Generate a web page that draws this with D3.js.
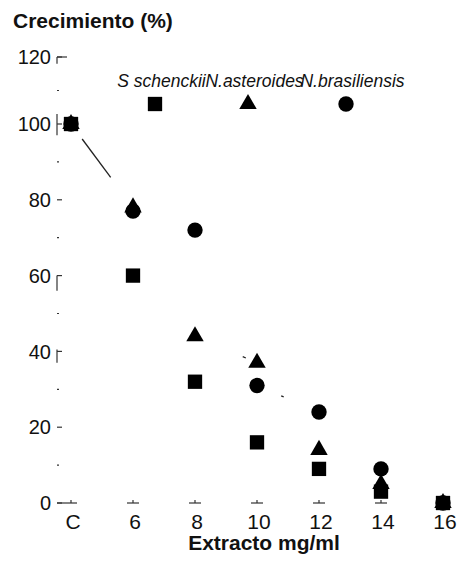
<!DOCTYPE html>
<html>
<head>
<meta charset="utf-8">
<script src="https://cdn.jsdelivr.net/npm/d3@7"></script>
<style>
  html, body { margin: 0; padding: 0; background: #fff; }
  svg { display: block; font-family: "Liberation Sans", Arial, Helvetica, sans-serif; }
</style>
</head>
<body>
<svg id="chart" width="460" height="565"></svg>
<script>
// Growth (%) of three species against extract concentration
const doses = ["C", "6", "8", "10", "12", "14", "16"];
const schenckii   = [100, 60, 32, 16, 9, 3, 0];
const asteroides  = [100, 78, 44, 37, 14, 5, 0];
const brasiliensis = [100, 77, 72, 31, 24, 9, 0];

const seriesNames = ["S schenckii", "N.asteroides", "N.brasiliensis"];
const seriesSymbols = ["square", "triangle", "circle"];

const yMajor = [0, 20, 40, 60, 80, 100, 120];
const yMinor = [10, 30, 50, 70, 90, 110];

// Surviving pieces of the connecting lines: series, segment start index, fraction range
const lineFragments = [
  { series: 1, i: 0, t0: 0.18, t1: 0.64 },
  { series: 1, i: 2, t0: 0.77, t1: 0.82 },
  { series: 2, i: 3, t0: 0.39, t1: 0.43 }
];

// Axis fragments along the y axis (value ranges)
const yAxisPieces = [[118, 120], [97, 103], [56, 60], [37, 40.5]];

const allSeries = [schenckii, asteroides, brasiliensis];

const svg = d3.select("#chart");

const x = d3.scalePoint().domain(doses).range([71, 443]);
const y = d3.scaleLinear().domain([0, 100, 120]).range([503, 124, 57]);
const axisX = 57;

const symbolType = {
  square: { type: d3.symbolSquare, size: 205 },
  triangle: { type: d3.symbolTriangle, size: 132 },
  circle: { type: d3.symbolCircle, size: 185 }
};
const symbolPath = name => d3.symbol().type(symbolType[name].type).size(symbolType[name].size)();

// Titles
svg.append("text")
  .attr("x", 13).attr("y", 28)
  .attr("font-size", 21).attr("font-weight", "bold")
  .attr("fill", "#111")
  .text("Crecimiento (%)");

svg.append("text")
  .attr("x", 264).attr("y", 550)
  .attr("text-anchor", "middle")
  .attr("font-size", 21).attr("font-weight", "bold")
  .attr("fill", "#111")
  .text("Extracto mg/ml");

// Y axis
const gy = svg.append("g").attr("stroke", "#333").attr("stroke-width", 1.2);
gy.selectAll("line.major").data(yMajor).join("line")
  .attr("class", "major")
  .attr("x1", axisX).attr("x2", axisX + 5)
  .attr("y1", d => y(d)).attr("y2", d => y(d));
gy.selectAll("line.minor").data(yMinor).join("line")
  .attr("class", "minor")
  .attr("x1", axisX).attr("x2", axisX + 2)
  .attr("y1", d => y(d)).attr("y2", d => y(d));
gy.selectAll("line.piece").data(yAxisPieces).join("line")
  .attr("class", "piece")
  .attr("x1", axisX).attr("x2", axisX)
  .attr("y1", d => y(d[0])).attr("y2", d => y(d[1]));
gy.append("line")
  .attr("x1", axisX).attr("x2", axisX + 10)
  .attr("y1", y(120)).attr("y2", y(120));

svg.append("g").selectAll("text").data(yMajor).join("text")
  .attr("x", 51).attr("y", d => y(d))
  .attr("dy", "0.36em")
  .attr("text-anchor", "end")
  .attr("font-size", 20)
  .attr("fill", "#111")
  .text(d => d);

// X axis
const gx = svg.append("g").attr("stroke", "#333").attr("stroke-width", 1.2);
gx.selectAll("line.h").data(doses).join("line")
  .attr("class", "h")
  .attr("x1", (d, i) => i === 0 ? axisX : x(d) - 6)
  .attr("x2", d => x(d) + 6)
  .attr("y1", y(0)).attr("y2", y(0));
gx.selectAll("line.v").data(doses).join("line")
  .attr("class", "v")
  .attr("x1", d => x(d)).attr("x2", d => x(d))
  .attr("y1", y(0)).attr("y2", y(0) - 3);

svg.append("g").selectAll("text").data(doses).join("text")
  .attr("x", d => x(d) + 2).attr("y", 529)
  .attr("text-anchor", "middle")
  .attr("font-size", 21)
  .attr("fill", "#111")
  .text(d => d);

// Line fragments
svg.append("g").selectAll("line").data(lineFragments).join("line")
  .attr("stroke", "#222").attr("stroke-width", 1.3)
  .attr("x1", f => { const a = x(doses[f.i]), b = x(doses[f.i + 1]); return a + (b - a) * f.t0; })
  .attr("x2", f => { const a = x(doses[f.i]), b = x(doses[f.i + 1]); return a + (b - a) * f.t1; })
  .attr("y1", f => { const s = allSeries[f.series]; const a = y(s[f.i]), b = y(s[f.i + 1]); return a + (b - a) * f.t0; })
  .attr("y2", f => { const s = allSeries[f.series]; const a = y(s[f.i]), b = y(s[f.i + 1]); return a + (b - a) * f.t1; });

// Data markers
allSeries.forEach((vals, si) => {
  svg.append("g").selectAll("path").data(vals).join("path")
    .attr("d", symbolPath(seriesSymbols[si]))
    .attr("transform", (v, i) => `translate(${x(doses[i])},${y(v)})`)
    .attr("fill", "#000");
});

// Legend
const legendX = [155, 248, 346];
const lg = svg.append("g");
seriesNames.forEach((name, i) => {
  lg.append("text")
    .attr("x", legendX[i] + 6.5).attr("y", 87)
    .attr("text-anchor", "middle")
    .attr("font-size", 17.5).attr("font-style", "italic")
    .attr("fill", "#111")
    .text(name);
  lg.append("path")
    .attr("d", symbolPath(seriesSymbols[i]))
    .attr("transform", `translate(${legendX[i]},104)`)
    .attr("fill", "#000");
});
</script>
</body>
</html>
